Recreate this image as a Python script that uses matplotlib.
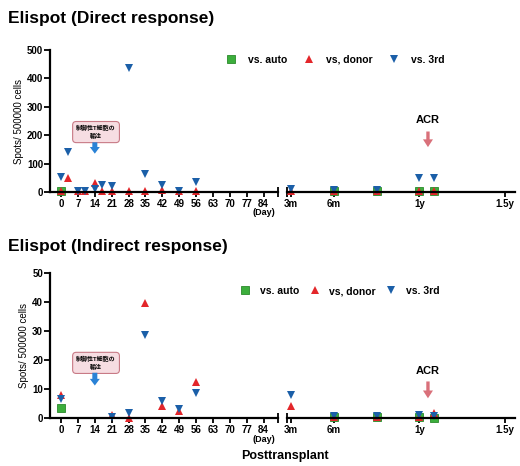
import numpy as np
import matplotlib as mpl
mpl.use("Agg")
from matplotlib import pyplot as plt

plt.rcParams['font.family'] = ['Liberation Sans', 'Noto Sans CJK JP']
plt.rcParams['font.weight'] = 'bold'

# 数据 (直接反应)
d_auto_day = [0]
d_auto_day_v = [3]
d_donor_day = [0, 3, 7, 10, 14, 17, 21, 28, 35, 42, 49, 56]
d_donor_day_v = [5, 50, 3, 2, 32, 4, 3, 3, 3, 6, 2, 4]
d_third_day = [0, 3, 7, 10, 14, 17, 21, 28, 35, 42, 49, 56]
d_third_day_v = [52, 142, 5, 5, 12, 25, 21, 436, 63, 25, 3, 35]
d_auto_mo = [6, 9, 12, 13]
d_auto_mo_v = [3, 3, 5, 5]
d_donor_mo = [3, 6, 9, 12, 13]
d_donor_mo_v = [3, 2, 3, 4, 5]
d_third_mo = [3, 6, 9, 12, 13]
d_third_mo_v = [10, 6, 6, 50, 50]

# 数据 (间接反应)
i_auto_day = [0]
i_auto_day_v = [3.5]
i_donor_day = [0, 21, 28, 35, 42, 49, 56]
i_donor_day_v = [8, 1, 0, 39.5, 4, 2.5, 12.5]
i_third_day = [0, 21, 28, 35, 42, 49, 56]
i_third_day_v = [6.5, 0.5, 1.7, 28.5, 5.8, 3, 8.5]
i_auto_mo = [6, 9, 12, 13]
i_auto_mo_v = [0.3, 0.5, 0.3, 0.1]
i_donor_mo = [3, 6, 9, 12, 13]
i_donor_mo_v = [4, 0.3, 0.5, 0.5, 1.8]
i_third_mo = [3, 6, 9, 12, 13]
i_third_mo_v = [7.8, 0.6, 0.6, 1, 0.6]

day_ticks = [0, 7, 14, 21, 28, 35, 42, 49, 56, 63, 70, 77, 84]
mo_ticks = [3, 6, 12, 18]
mo_labels = ['3m', '6m', '1y', '1.5y']

green = '#3cae3c'
red = '#e3262a'
blue = '#1b5fa8'
W, H = 520, 466

f = plt.figure(figsize=(W / 100, H / 100), dpi=100)


def fx(px):
    return px / W


def fy(px):
    return 1 - px / H


def make_panel(top_px, bot_px, ymax, yticks, data, title, title_y, legend_y, legend_x,
               box_y, arrow_y, acr_y, acr_arrow, leg_pad, leg_sp):
    h = (bot_px - top_px) / H
    axL = f.add_axes([fx(50), fy(bot_px), fx(228), h])
    axR = f.add_axes([fx(287), fy(bot_px), fx(228), h])
    (a_d, a_dv, do_d, do_dv, t_d, t_dv, a_m, a_mv, do_m, do_mv, t_m, t_mv) = data

    kw = dict(linestyle='none', clip_on=False)
    sq = dict(marker='s', color=green, markersize=5.8, markeredgecolor='#2b8a2b', markeredgewidth=0.6)
    up = dict(marker='^', color=red, markersize=6, markeredgewidth=0)
    dn = dict(marker='v', color=blue, markersize=6, markeredgewidth=0)
    axL.plot(a_d, a_dv, **sq, **kw)
    axL.plot(do_d, do_dv, **up, **kw)
    axL.plot(t_d, t_dv, **dn, **kw)
    h1, = axR.plot(a_m, a_mv, **sq, **kw)
    h2, = axR.plot(do_m, do_mv, **up, **kw)
    h3, = axR.plot(t_m, t_mv, **dn, **kw)

    for ax in (axL, axR):
        ax.set_ylim(0, ymax)
        ax.spines['top'].set_visible(False)
        ax.spines['right'].set_visible(False)
        ax.spines['bottom'].set_linewidth(1.6)
        ax.spines['left'].set_linewidth(1.6)
        ax.tick_params(axis='x', which='major', direction='out', length=3.5, width=1.3,
                       labelsize=7, pad=1.5)
        ax.tick_params(axis='x', which='minor', direction='inout', length=7, width=1.3)
        ax.set_facecolor('none')

    axL.set_xlim(-4.6, 90)
    axL.set_xticks(day_ticks)
    axL.set_xticks([90], minor=True)
    axL.set_yticks(yticks)
    axL.tick_params(axis='y', direction='out', length=4, width=1.3, labelsize=7, pad=1)
    axL.set_ylabel('Spots/ 500000 cells', fontsize=7, labelpad=2)
    axL.text(84, -0.115, '(Day)', transform=axL.get_xaxis_transform(), fontsize=6.5,
             ha='center', va='top')

    axR.set_xlim(2.72, 18.7)
    axR.set_xticks(mo_ticks)
    axR.set_xticklabels(mo_labels)
    axR.set_xticks([2.72], minor=True)
    axR.spines['left'].set_visible(False)
    axR.set_yticks([])

    # 制御性T細胞の輸注
    axL.text(14.5, box_y, '制御性T細胞の\n輸注', fontsize=4.3, ha='center', va='center',
             linespacing=1.3,
             bbox=dict(boxstyle='round,pad=0.6', fc='#f6dde2', ec='#c87a86', lw=0.8))
    axL.annotate('', xy=(14, arrow_y[1]), xytext=(14, arrow_y[0]),
                 arrowprops=dict(arrowstyle='simple,head_width=0.9,head_length=0.6,tail_width=0.45',
                                 color='#2a82d6', lw=0, shrinkA=0, shrinkB=0, mutation_scale=8))
    # ACR
    axR.text(12.6, acr_y, 'ACR', fontsize=8, ha='center', va='center')
    axR.annotate('', xy=(12.6, acr_arrow[1]), xytext=(12.6, acr_arrow[0]),
                 arrowprops=dict(arrowstyle='simple,head_width=0.9,head_length=0.7,tail_width=0.3',
                                 color='#d9707a', lw=0, shrinkA=0, shrinkB=0, mutation_scale=8))

    f.text(fx(8), fy(title_y), title, fontsize=12.5, ha='left', va='center')
    f.legend([h1, h2, h3], ['vs. auto', 'vs, donor', 'vs. 3rd'], loc='center left',
             bbox_to_anchor=(fx(legend_x), fy(legend_y)), ncol=3, frameon=False,
             fontsize=7.5, handlelength=1.0, handletextpad=leg_pad, columnspacing=leg_sp,
             borderpad=0, borderaxespad=0)
    return axL, axR


make_panel(50, 192, 500, [0, 100, 200, 300, 400, 500],
           (d_auto_day, d_auto_day_v, d_donor_day, d_donor_day_v, d_third_day, d_third_day_v,
            d_auto_mo, d_auto_mo_v, d_donor_mo, d_donor_mo_v, d_third_mo, d_third_mo_v),
           'Elispot (Direct response)', 19, 60, 226, 211, (175, 135), 253, (213, 158),
           1.1, 1.6)
make_panel(273, 418, 50, [0, 10, 20, 30, 40, 50],
           (i_auto_day, i_auto_day_v, i_donor_day, i_donor_day_v, i_third_day, i_third_day_v,
            i_auto_mo, i_auto_mo_v, i_donor_mo, i_donor_mo_v, i_third_mo, i_third_mo_v),
           'Elispot (Indirect response)', 246, 291, 240, 19, (15.6, 11.2), 16.2, (12.6, 6.8),
           0.9, 1.0)

f.text(fx(285), fy(456), 'Posttransplant', fontsize=9, ha='center', va='center')

plt.savefig('out.png', dpi=100)
